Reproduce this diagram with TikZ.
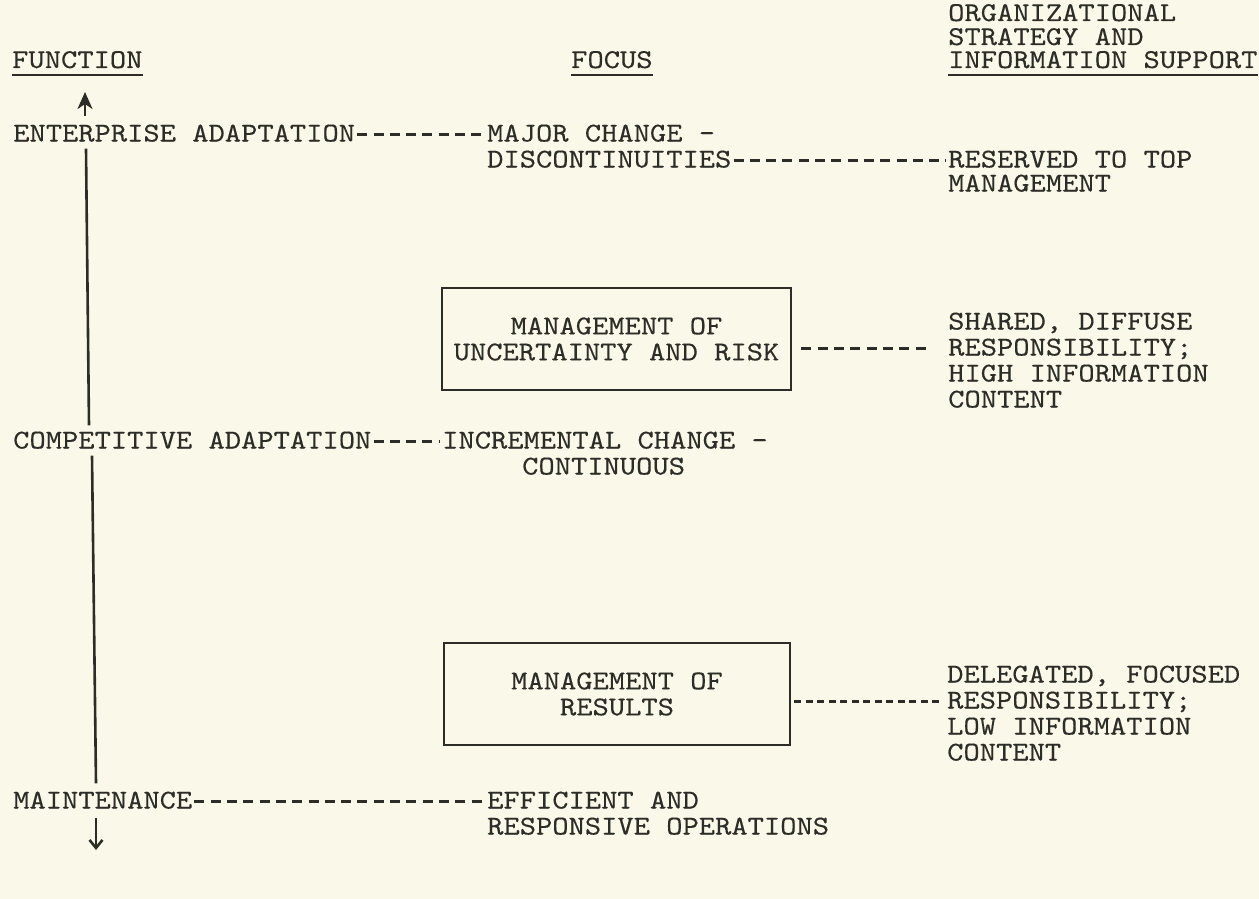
\documentclass[tikz,border=0pt]{standalone}
\usepackage{fontspec}
\setmonofont{lmmono10-regular.otf}[FakeStretch=1.14,FakeBold=0.3]
\usetikzlibrary{arrows.meta,calc}
\definecolor{paper}{RGB}{250,249,233}
\definecolor{ink}{RGB}{45,45,40}
\begin{document}
\begin{tikzpicture}[x=1pt,y=-1pt,
  every node/.style={font=\ttfamily\fontsize{27.2}{26}\selectfont, text=ink},
  lbl/.style={anchor=base west, inner sep=0pt, text height=17pt, text depth=3pt},
  focusbox/.style={draw=ink, line width=2.8pt, inner sep=0pt, align=center},
  typed/.style={draw=ink, line width=2.4pt, dash pattern=on 10pt off 6.3pt},
  fine/.style={draw=ink, line width=2.2pt, dash pattern=on 7pt off 4.5pt},
  axis/.style={draw=ink, line width=2.6pt},
  uline/.style={draw=ink, line width=2.2pt}
]
% paper
\fill[paper] (0,0) rectangle (1259,899);
\useasboundingbox (0,0) rectangle (1259,899);

% column headings
\node[lbl] (org1) at (948,21) {ORGANIZATIONAL};
\node[lbl] (org2) at (948,45) {STRATEGY AND};
\node[lbl] (org3) at (948,68) {INFORMATION SUPPORT};
\node[lbl] (fun)  at (12,68)  {FUNCTION};
\node[lbl] (foc)  at (571,68) {FOCUS};
\draw[uline] ([yshift=-7pt]fun.base west)  -- ([yshift=-7pt]fun.base east);
\draw[uline] ([yshift=-7pt]foc.base west)  -- ([yshift=-7pt]foc.base east);
\draw[uline] ([yshift=-7pt]org3.base west) -- ([yshift=-7pt]org3.base east);

% functions
\node[lbl] (ent)   at (13,141.5) {ENTERPRISE ADAPTATION};
\node[lbl] (comp)  at (13,448.5) {COMPETITIVE ADAPTATION};
\node[lbl] (maint) at (13,808.5) {MAINTENANCE};

% focus
\node[lbl] (major) at (487,141.5) {MAJOR CHANGE -};
\node[lbl] (disc)  at (487,167.5) {DISCONTINUITIES};
\node[lbl] (inc)   at (442,448.5) {INCREMENTAL CHANGE -};
\node[lbl] (cont)  at (522,474.5) {CONTINUOUS};
\node[lbl] (eff)   at (487,808.5) {EFFICIENT AND};
\node[lbl] (resp)  at (487,834.5) {RESPONSIVE OPERATIONS};

\node[focusbox, minimum width=349pt, minimum height=102pt] (box1) at (616.5,339)
  {MANAGEMENT OF\\UNCERTAINTY AND RISK};
\node[focusbox, minimum width=346pt, minimum height=102pt] (box2) at (617,694)
  {MANAGEMENT OF\\RESULTS};

% organizational strategy
\node[lbl] (res1) at (948,167.5) {RESERVED TO TOP};
\node[lbl] (res2) at (948,191.5) {MANAGEMENT};
\node[lbl] (sh1) at (948,329.5) {SHARED, DIFFUSE};
\node[lbl] (sh2) at (948,355.5) {RESPONSIBILITY;};
\node[lbl] (sh3) at (948,381.5) {HIGH INFORMATION};
\node[lbl] (sh4) at (948,407.5) {CONTENT};
\node[lbl] (dl1) at (947,682.5) {DELEGATED, FOCUSED};
\node[lbl] (dl2) at (947,708.5) {RESPONSIBILITY;};
\node[lbl] (dl3) at (947,734.5) {LOW INFORMATION};
\node[lbl] (dl4) at (947,760.5) {CONTENT};

% vertical function axis
\coordinate (uptip) at (85,92);
\coordinate (dntip) at (96,850);
\draw[axis, -{Stealth[length=17pt,width=15pt,inset=5pt]}]
  ([xshift=72pt,yshift=8pt]ent.north west) -- (uptip);
\draw[axis] ([xshift=73pt,yshift=-4pt]ent.south west) -- ([xshift=76pt,yshift=6pt]comp.north west);
\draw[axis] ([xshift=79pt,yshift=-4pt]comp.south west) -- ([xshift=83pt,yshift=8pt]maint.north west);
\draw[axis, -{Straight Barb[length=8pt,width=13pt]}]
  ([xshift=83pt,yshift=-6pt]maint.south west) -- (dntip);

% typed leaders
\draw[typed] ([xshift=2pt,yshift=7pt]ent.base east)   -- ([xshift=-2pt,yshift=7pt]major.base west);
\draw[typed] ([xshift=2pt,yshift=7pt]disc.base east)  -- ([xshift=-2pt,yshift=7pt]res1.base west);
\draw[typed] ([xshift=2pt,yshift=7pt]comp.base east)  -- ([xshift=-2pt,yshift=7pt]inc.base west);
\draw[typed] ([xshift=2pt,yshift=7pt]maint.base east) -- ([xshift=-2pt,yshift=7pt]eff.base west);

\coordinate (h1) at ([yshift=7pt]sh2.base west);
\coordinate (h2) at ([yshift=7pt]dl2.base west);
\draw[typed] ([xshift=9pt]h1 -| box1.east) -- ([xshift=-20pt]h1);
\draw[fine]  ([xshift=3pt]h2 -| box2.east) -- ([xshift=-6pt]h2);
\end{tikzpicture}
\end{document}
